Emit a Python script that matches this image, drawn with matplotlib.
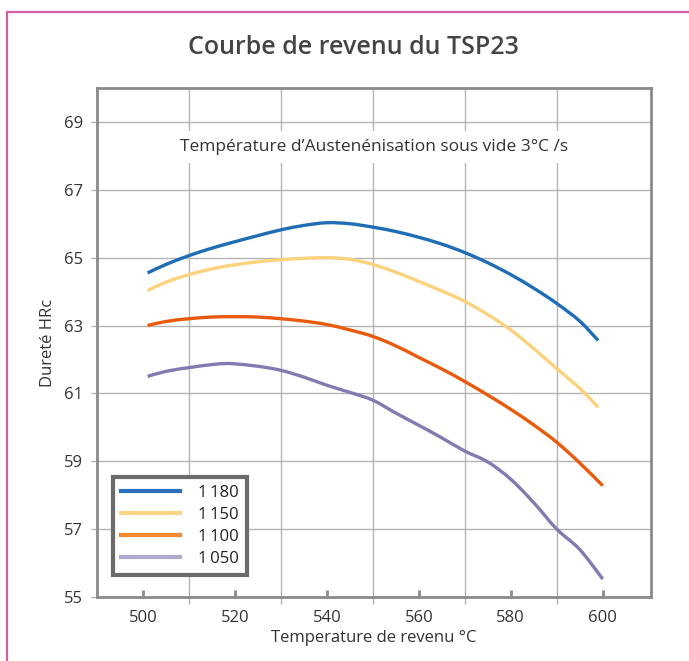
import matplotlib
matplotlib.use("Agg")
import matplotlib.pyplot as plt
import numpy as np
from matplotlib.lines import Line2D
from matplotlib.patches import Rectangle, PathPatch
from matplotlib.path import Path

# ---- data ----
t_1180 = [501, 505, 510, 515, 520, 525, 530, 535, 540, 545, 550, 555, 560, 565, 570, 575, 580, 585, 590, 595, 599]
h_1180 = [64.55, 64.80, 65.06, 65.28, 65.47, 65.65, 65.82, 65.95, 66.03, 66.00, 65.90, 65.77, 65.60, 65.40, 65.15, 64.85, 64.50, 64.10, 63.65, 63.13, 62.56]

t_1150 = [501, 505, 510, 515, 520, 525, 530, 535, 540, 545, 550, 555, 560, 565, 570, 575, 580, 585, 590, 595, 599]
h_1150 = [64.03, 64.28, 64.50, 64.67, 64.79, 64.88, 64.94, 64.98, 65.00, 64.95, 64.80, 64.57, 64.30, 64.02, 63.71, 63.32, 62.87, 62.32, 61.73, 61.15, 60.59]

t_1100 = [501, 505, 510, 515, 520, 525, 530, 535, 540, 545, 550, 555, 560, 565, 570, 575, 580, 585, 590, 595, 600]
h_1100 = [63.00, 63.12, 63.20, 63.25, 63.26, 63.25, 63.20, 63.13, 63.03, 62.87, 62.68, 62.40, 62.06, 61.72, 61.35, 60.95, 60.53, 60.07, 59.56, 58.95, 58.28]

t_1050 = [501, 505, 510, 515, 518, 520, 525, 530, 535, 540, 545, 550, 555, 560, 565, 570, 575, 580, 585, 590, 595, 600]
h_1050 = [61.50, 61.65, 61.76, 61.85, 61.88, 61.87, 61.80, 61.68, 61.48, 61.24, 61.03, 60.80, 60.42, 60.06, 59.69, 59.30, 58.98, 58.47, 57.78, 57.00, 56.40, 55.53]

series_labels = ["1\u2009180", "1\u2009150", "1\u2009100", "1\u2009050"]
x_ticks = [500, 520, 540, 560, 580, 600]
x_grid = [510, 530, 550, 570, 590]
y_ticks = [55, 57, 59, 61, 63, 65, 67, 69]

line_colors = ["#1f6db5", "#fdd27d", "#ea5a0c", "#8479b0"]
legend_colors = ["#2a72bb", "#fdd585", "#f58a30", "#b0a9cf"]

plt.rcParams['font.family'] = ['Open Sans', 'DejaVu Sans']


def smooth_path(x, y):
    """Catmull-Rom through the data points, expressed as cubic Bezier path."""
    x = np.asarray(x, float)
    y = np.asarray(y, float)
    pts = np.column_stack([x, y])
    verts = [pts[0]]
    codes = [Path.MOVETO]
    n = len(pts)
    for i in range(n - 1):
        p0 = pts[i - 1] if i > 0 else pts[i]
        p1 = pts[i]
        p2 = pts[i + 1]
        p3 = pts[i + 2] if i + 2 < n else pts[i + 1]
        c1 = p1 + (p2 - p0) / 6.0
        c2 = p2 - (p3 - p1) / 6.0
        verts += [c1, c2, p2]
        codes += [Path.CURVE4] * 3
    return Path(verts, codes)


fig = plt.figure(figsize=(6.89, 6.61), dpi=100)
fig.patch.set_facecolor("white")

# pink frame (left/top edges visible)
fig.patches.append(Rectangle((7/689, -0.2), 1.2, (1 - 12/661) + 0.2, transform=fig.transFigure,
                             fill=False, edgecolor="#d35fa5", linewidth=1.6, zorder=0))

ax = fig.add_axes([97/689, 1 - 597/661, (651-97)/689, (597-88)/661])

series = [(t_1180, h_1180), (t_1150, h_1150), (t_1100, h_1100), (t_1050, h_1050)]
for (t, h), c in zip(series, line_colors):
    ax.add_patch(PathPatch(smooth_path(t, h), facecolor='none', edgecolor=c,
                           linewidth=2.4, capstyle='butt', zorder=3))

ax.set_xlim(490, 610.5)
ax.set_ylim(55, 70)

spine_c = "#8a8a8a"
grid_c = "#b4b4b4"
for s in ax.spines.values():
    s.set_color(spine_c)
    s.set_linewidth(2)

ax.set_xticks(x_ticks)
ax.set_xticks(x_grid, minor=True)
ax.set_yticks(y_ticks)
ax.tick_params(axis='x', which='major', direction='in', length=5, width=2, color=spine_c,
               labelsize=12, labelcolor="#333333", pad=9)
ax.tick_params(axis='x', which='minor', direction='out', length=5, width=1, color=grid_c)
ax.tick_params(axis='y', which='major', direction='out', length=4, width=1, color=grid_c,
               labelsize=12, labelcolor="#333333", pad=6)
ax.grid(True, axis='x', which='minor', color=grid_c, linewidth=1, zorder=1)
ax.grid(True, axis='y', which='major', color=grid_c, linewidth=1, zorder=1)
ax.set_axisbelow(True)

ax.set_xlabel("Temperature de revenu °C", fontsize=12, color="#333333", labelpad=3)
ax.set_ylabel("Dureté HRc", fontsize=12, color="#333333", labelpad=6)

ax.text(550.3, 68.26, "Température d\u2019Austenénisation sous vide 3°C /s", ha='center', va='center',
        fontsize=12.5, color="#333333", zorder=2,
        bbox=dict(facecolor="white", edgecolor="none", pad=6))

fig.text(353/689, 1 - 48/661, "Courbe de revenu du TSP23", ha='center', va='center',
         fontsize=18, fontweight='semibold', color="#444444")

handles = [Line2D([0], [0], color=c, linewidth=3) for c in legend_colors]
leg = ax.legend(handles, series_labels, loc='lower left', bbox_to_anchor=(0.029, 0.043),
                borderaxespad=0, fontsize=12, handlelength=3.5, handletextpad=1.1,
                labelspacing=0.35, fancybox=False, framealpha=1, borderpad=0.5)
leg.get_frame().set_edgecolor("#6b6b6b")
leg.get_frame().set_linewidth(3)
for txt in leg.get_texts():
    txt.set_color("#222222")

fig.savefig("out.png", dpi=100)
